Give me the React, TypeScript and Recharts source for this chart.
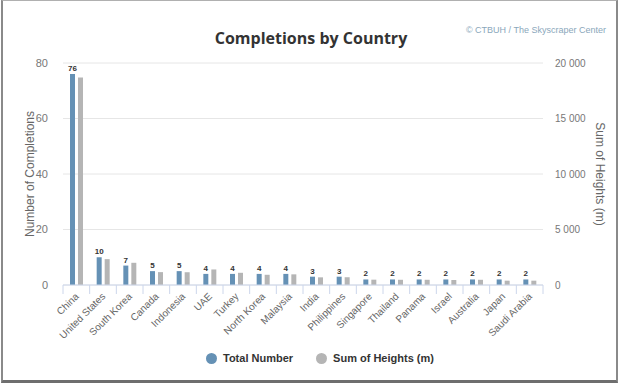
import React from 'react';
import { BarChart, Bar, XAxis, YAxis, CartesianGrid, LabelList } from 'recharts';

const countries = [
  'China', 'United States', 'South Korea', 'Canada', 'Indonesia', 'UAE', 'Turkey', 'North Korea', 'Malaysia',
  'India', 'Philippines', 'Singapore', 'Thailand', 'Panama', 'Israel', 'Australia', 'Japan', 'Saudi Arabia',
];
const totalNumber = [76, 10, 7, 5, 5, 4, 4, 4, 4, 3, 3, 2, 2, 2, 2, 2, 2, 2];
const sumOfHeights = [18700, 2330, 2000, 1160, 1150, 1400, 1100, 920, 960, 690, 700, 480, 470, 470, 450, 470, 390, 390];
const leftTicks = [0, 20, 40, 60, 80];
const rightTicks = [0, 5000, 10000, 15000, 20000];

const BLUE = '#6591b5';
const GRAY = '#b5b5b5';
const FONT = '"Liberation Sans", Arial, sans-serif';

const data = countries.map((c, i) => ({ country: c, total: totalNumber[i], heights: sumOfHeights[i] }));

const fmt = (v: number) => String(v).replace(/\B(?=(\d{3})+(?!\d))/g, ' ');

const CountryTick = (props: any) => {
  const { x, y, payload, index } = props;
  const half = payload && payload.offset ? payload.offset : 480 / 36;
  return (
    <g>
      <line x1={x - half} x2={x - half} y1={y} y2={y + 9} stroke="#ccd6eb" />
      {index === countries.length - 1 && <line x1={x + half} x2={x + half} y1={y} y2={y + 9} stroke="#ccd6eb" />}
      <text x={x + 3} y={y + 12} textAnchor="end" fontSize={10} fill="#666" fontFamily={FONT} transform={`rotate(-45 ${x + 3} ${y + 12})`}>
        {payload.value}
      </text>
    </g>
  );
};

export default function App() {
  return (
    <div style={{ position: 'absolute', left: 0, top: 0, width: 622, height: 387, background: '#fff', fontFamily: FONT }}>
      <div style={{ position: 'absolute', left: 1, top: 0, width: 617, height: 383, borderLeft: '2px solid #8a8a8a', borderRight: '2px solid #8a8a8a', borderBottom: '3px solid #6e6e6e', borderTop: '1px solid #b0b0b0', boxSizing: 'border-box' }} />
      <BarChart width={622} height={387} data={data} margin={{ top: 63, right: 29, bottom: 42, left: 23 }} barSize={5} barGap={3}>
        <CartesianGrid yAxisId="left" vertical={false} stroke="#e6e6e6" />
        <XAxis dataKey="country" interval={0} tickLine={false} tickSize={0} tickMargin={0} height={60} axisLine={{ stroke: '#ccd6eb' }} tick={<CountryTick />} />
        <YAxis yAxisId="left" domain={[0, 80]} ticks={leftTicks} width={40} axisLine={false} tickLine={false} tickMargin={9} tick={{ fontSize: 11, fill: '#777', fontFamily: FONT }} />
        <YAxis yAxisId="right" orientation="right" domain={[0, 20000]} ticks={rightTicks} width={50} axisLine={false} tickLine={false} tickMargin={6} tickFormatter={fmt} tick={{ fontSize: 10, fill: '#777', fontFamily: FONT }} />
        <Bar yAxisId="left" dataKey="total" fill={BLUE} isAnimationActive={false}>
          <LabelList dataKey="total" position="top" offset={3} style={{ fontSize: 8, fontWeight: 'bold', fill: '#333', fontFamily: FONT }} />
        </Bar>
        <Bar yAxisId="right" dataKey="heights" fill={GRAY} isAnimationActive={false} />
      </BarChart>
      <div style={{ position: 'absolute', left: 0, width: 622, top: 27, textAlign: 'center', fontFamily: '"Open Sans", sans-serif', fontWeight: 700, fontSize: 16, color: '#333' }}>
        Completions by Country
      </div>
      <div style={{ position: 'absolute', right: 16, top: 25, fontSize: 9, color: '#8aa7bb' }}>© CTBUH / The Skyscraper Center</div>
      <div style={{ position: 'absolute', left: 30, top: 174, transform: 'translate(-50%, -50%) rotate(-90deg)', whiteSpace: 'nowrap', fontSize: 12, color: '#666' }}>
        Number of Completions
      </div>
      <div style={{ position: 'absolute', left: 600, top: 174, transform: 'translate(-50%, -50%) rotate(90deg)', whiteSpace: 'nowrap', fontSize: 12, color: '#666' }}>
        Sum of Heights (m)
      </div>
      <div style={{ position: 'absolute', left: 206, top: 352, display: 'flex', alignItems: 'center', fontSize: 11, fontWeight: 700, color: '#333' }}>
        <span style={{ width: 11, height: 11, borderRadius: '50%', background: BLUE, display: 'inline-block', marginRight: 6 }} />
        <span style={{ marginRight: 23 }}>Total Number</span>
        <span style={{ width: 11, height: 11, borderRadius: '50%', background: GRAY, display: 'inline-block', marginRight: 6 }} />
        <span>Sum of Heights (m)</span>
      </div>
    </div>
  );
}
